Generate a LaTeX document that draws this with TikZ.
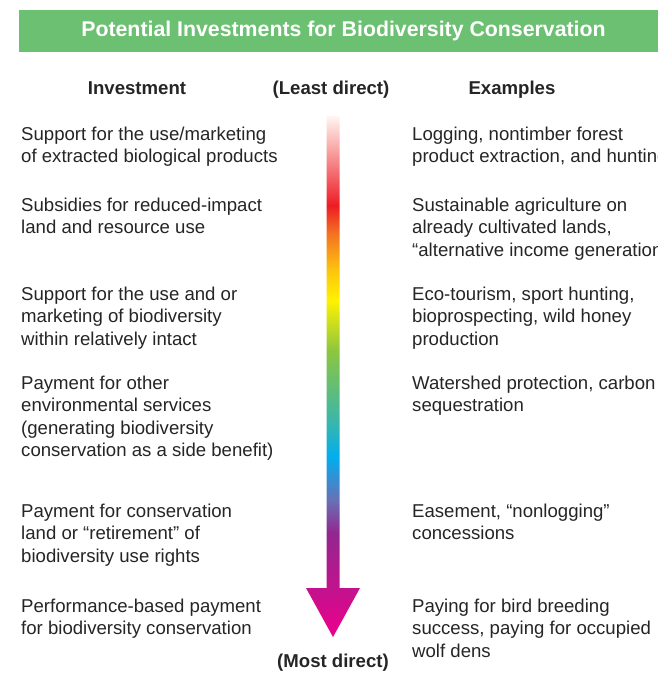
\documentclass[tikz,border=0pt]{standalone}
\usepackage{fontspec}
\setmainfont{Liberation Sans}
\usetikzlibrary{calc}

\definecolor{bargreen}{RGB}{107,192,114}
\definecolor{inktext}{RGB}{38,36,37}
% colour stops of the arrow, bottom (tip) to top
\definecolor{cmag}{RGB}{236,0,140}
\definecolor{cpur}{RGB}{146,39,143}
\definecolor{cvio}{RGB}{105,112,182}
\definecolor{ccya}{RGB}{0,174,239}
\definecolor{cteal}{RGB}{60,182,168}
\definecolor{cgrn}{RGB}{141,198,63}
\definecolor{cyel}{RGB}{255,242,0}
\definecolor{cgold}{RGB}{253,196,15}
\definecolor{cora}{RGB}{243,112,33}
\definecolor{cred}{RGB}{237,28,36}
\definecolor{cpale}{RGB}{255,246,242}
\pgfdeclareverticalshading{rainbow}{100bp}{color(0bp)=(cmag); color(25bp)=(cmag);
  color(35bp)=(cpur); color(38.1bp)=(cvio); color(42.3bp)=(ccya); color(45.8bp)=(cteal);
  color(52.5bp)=(cgrn); color(57.3bp)=(cyel); color(60.2bp)=(cgold); color(63.8bp)=(cora);
  color(66.4bp)=(cred); color(75bp)=(cpale); color(100bp)=(cpale)}

\begin{document}
\begin{tikzpicture}[
        x=1pt, y=-1pt,
        titlebar/.style={fill=bargreen, draw=none},
        head/.style={font=\fontsize{18.6}{22}\selectfont\bfseries, text=inktext, anchor=base, inner sep=0pt},
        % anchor is the baseline of the last line
        item/.style={font=\fontsize{18.6}{22.6}\selectfont, text=inktext, anchor=base west, align=left, inner sep=0pt}
    ]
        \useasboundingbox (0,0) rectangle (658,673);
        \clip (0,0) rectangle (658,673);

        % Title bar
        \fill[titlebar] (19,10) rectangle (660,52);
        \node[font=\fontsize{21.3}{24}\selectfont\bfseries, text=white] (title) at (343.5,31) {Potential Investments for Biodiversity Conservation};

        % Column headers
        \node[head] (hinv) at (137,94) {Investment};
        \node[head] (hleast) at (331,94) {(Least direct)};
        \node[head] (hex) at (512,94) {Examples};
        \node[head] (hmost) at (333,667) {(Most direct)};

        % Left column: investments
        \node[item] (inv1) at (21,162.6) {Support for the use/marketing\\of extracted biological products};
        \node[item] (inv2) at (21,233.6) {Subsidies for reduced-impact\\land and resource use};
        \node[item] (inv3) at (21,345.2) {Support for the use and or\\marketing of biodiversity\\within relatively intact};
        \node[item] (inv4) at (21,456.8) {Payment for other\\environmental services\\(generating biodiversity\\conservation as a side benefit)};
        \node[item] (inv5) at (21,562.2) {Payment for conservation\\land or ``retirement'' of\\biodiversity use rights};
        \node[item] (inv6) at (21,634.6) {Performance-based payment\\for biodiversity conservation};

        % Right column: examples
        \node[item] (ex1) at (412,162.6) {Logging, nontimber forest\\product extraction, and hunting};
        \node[item] (ex2) at (412,256.2) {Sustainable agriculture on\\already cultivated lands,\\``alternative income generation''};
        \node[item] (ex3) at (412,345.2) {Eco-tourism, sport hunting,\\bioprospecting, wild honey\\production};
        \node[item] (ex4) at (412,411.6) {Watershed protection, carbon\\sequestration};
        \node[item] (ex5) at (412,539.6) {Easement, ``nonlogging''\\concessions};
        \node[item] (ex6) at (412,657.2) {Paying for bird breeding\\success, paying for occupied\\wolf dens};

        % Rainbow arrow
        \coordinate (atop) at (333,116);
        \coordinate (atip) at (333,637);
        \shade[shading=rainbow] ([xshift=-6.5pt]atop) -- ([xshift=6.5pt]atop)
            -- ([xshift=6.5pt,yshift=49pt]atip) -- ([xshift=27pt,yshift=49pt]atip)
            -- (atip) -- ([xshift=-27pt,yshift=49pt]atip)
            -- ([xshift=-6.5pt,yshift=49pt]atip) -- cycle;

\end{tikzpicture}
\end{document}
